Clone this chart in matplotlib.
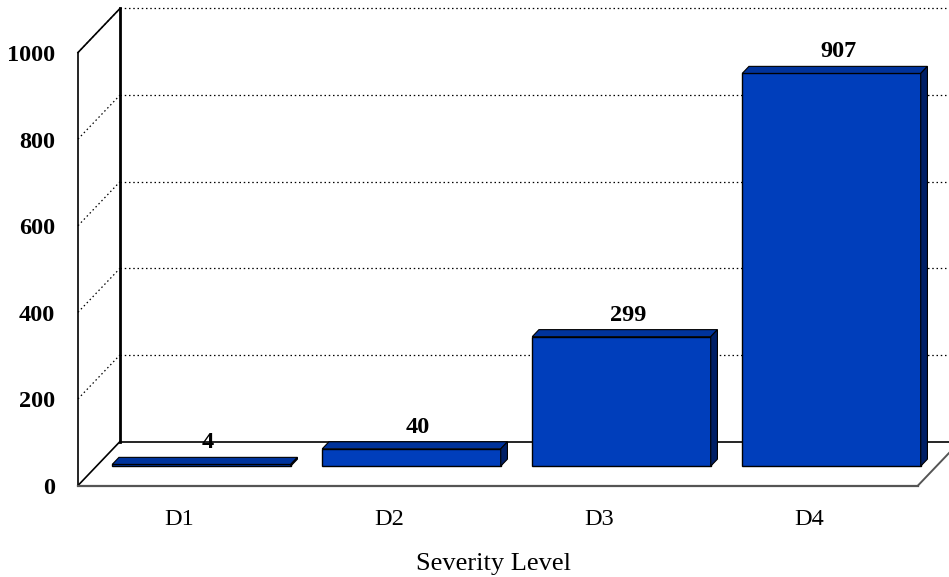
import matplotlib
matplotlib.use("Agg")
import matplotlib.pyplot as plt
from matplotlib.patches import Polygon

# ---- data ----
categories = ["D1", "D2", "D3", "D4"]
counts = [4, 40, 299, 907]
y_ticks = [0, 200, 400, 600, 800, 1000]
x_title = "Severity Level"

# ---- layout (pixel geometry of the oblique box) ----
W, H, DPI = 949, 577, 100
X0_PX = 78.0          # left edge of floor front
CAT_PX = 210.0        # width of one category slot
Y0_PX = 485.5         # floor front line (value 0)
PX_PER_UNIT = 0.433   # vertical pixels per value unit
DEPTH_PX = (42.0, 44.0)

DX = DEPTH_PX[0] / CAT_PX
DY = DEPTH_PX[1] / PX_PER_UNIT
BAR_W = 0.85
BAR_D0, BAR_D1 = 0.44, 0.60   # bar front/back depth fractions

FRONT = "#003EBB"
TOP = "#00339C"
SIDE = "#001F66"


def px(n):
    """Vertical pixel distance expressed in value units."""
    return n / PX_PER_UNIT


plt.rcParams["font.family"] = ["Liberation Serif", "DejaVu Serif"]

fig = plt.figure(figsize=(W / DPI, H / DPI), dpi=DPI)
ax = fig.add_axes([0, 0, 1, 1])
ax.set_xlim(-0.5 - X0_PX / CAT_PX, -0.5 + (W - X0_PX) / CAT_PX)
ax.set_ylim((Y0_PX - H) / PX_PER_UNIT, Y0_PX / PX_PER_UNIT)
ax.axis("off")

xl, xr = -0.5, len(categories) - 0.5
ymax = y_ticks[-1]

# floor
ax.add_patch(Polygon([(xl, 0), (xr, 0), (xr + DX, DY), (xl + DX, DY)],
                     closed=True, facecolor="white", edgecolor="none", zorder=1))

# back wall gridlines and left wall gridlines (dotted)
for v in y_ticks[1:]:
    ax.plot([xl + DX, xr + DX + 1], [v + DY, v + DY], color="black",
            lw=0.9, ls=(0, (1.2, 2.2)), zorder=2)
    ax.plot([xl, xl + DX], [v, v + DY], color="black",
            lw=0.9, ls=(0, (1.2, 2.2)), zorder=2)

# box edges
ax.plot([xl + DX, xr + DX + 1], [DY, DY], color="black", lw=1.2, zorder=3)
ax.plot([xl + DX, xl + DX], [DY, ymax + DY], color="black", lw=2.0, zorder=3)
ax.plot([xl, xl], [0, ymax], color="black", lw=1.2, zorder=3)
ax.plot([xl, xl + DX], [ymax, ymax + DY], color="black", lw=1.2, zorder=3)
ax.plot([xl, xl + DX], [0, DY], color="black", lw=1.2, zorder=3)
ax.plot([xl, xr], [0, 0], color="#555555", lw=1.6, zorder=3)
ax.plot([xr, xr + DX], [0, DY], color="#555555", lw=1.4, zorder=3)

# bars
for i, (cat, v) in enumerate(zip(categories, counts)):
    fx0 = i - BAR_W / 2 + BAR_D0 * DX
    fx1 = i + BAR_W / 2 + BAR_D0 * DX
    fy0 = BAR_D0 * DY
    fy1 = fy0 + v
    ddx = (BAR_D1 - BAR_D0) * DX
    ddy = (BAR_D1 - BAR_D0) * DY
    z = 5 + i
    ax.add_patch(Polygon([(fx0, fy0), (fx1, fy0), (fx1, fy1), (fx0, fy1)],
                         closed=True, facecolor=FRONT, edgecolor="black",
                         lw=1.0, zorder=z))
    ax.add_patch(Polygon([(fx0, fy1), (fx1, fy1), (fx1 + ddx, fy1 + ddy),
                          (fx0 + ddx, fy1 + ddy)],
                         closed=True, facecolor=TOP, edgecolor="black",
                         lw=0.8, zorder=z))
    ax.add_patch(Polygon([(fx1, fy0), (fx1 + ddx, fy0 + ddy),
                          (fx1 + ddx, fy1 + ddy), (fx1, fy1)],
                         closed=True, facecolor=SIDE, edgecolor="black",
                         lw=0.8, zorder=z))
    # value label above the bar
    ax.text(i + BAR_D1 * DX, fy1 + ddy + px(9), str(v),
            ha="center", va="baseline", fontsize=17.5, fontweight="bold",
            zorder=20)
    # category label
    ax.text(i - 0.02, -px(39.5), cat, ha="center", va="baseline",
            fontsize=17.5, zorder=20)

# value axis labels
for v in y_ticks:
    ax.text(xl - 23 / CAT_PX, v - px(8.5), str(v), ha="right",
            va="baseline", fontsize=17.5, fontweight="bold", zorder=20)

ax.text((xl + xr) / 2 - 0.02, -px(84.5), x_title, ha="center",
        va="baseline", fontsize=19, zorder=20)

fig.savefig("out.png", dpi=DPI)
